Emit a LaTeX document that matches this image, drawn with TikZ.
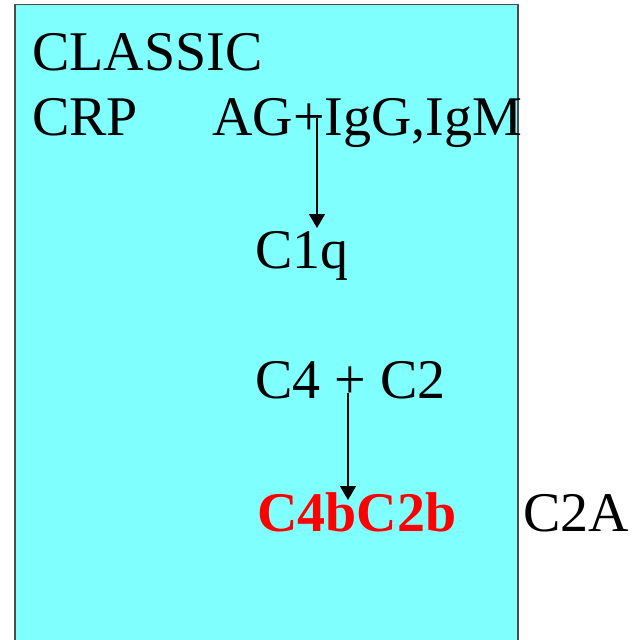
\documentclass[tikz,border=0pt]{standalone}
\usepackage{fontspec}
\setmainfont{Liberation Serif}
\usetikzlibrary{arrows.meta}
\tikzset{
  lbl/.style={anchor=base west, inner sep=0pt, font=\fontsize{56}{60}\selectfont},
  redlbl/.style={lbl, text=red, font=\fontsize{56}{60}\selectfont\bfseries},
  flow/.style={line width=1.4pt, -{Triangle[length=14pt,width=16pt]}},
  panel/.style={draw=black!70, line width=1.5pt, fill=cyanbg}
}
\definecolor{cyanbg}{HTML}{80FFFF}
\begin{document}
\begin{tikzpicture}[x=1pt,y=-1pt]
\useasboundingbox (0,0) rectangle (634,640);
\clip (0,0) rectangle (634,640);
\path[panel] (15,4.5) rectangle (518,660);
\node[lbl] (classic) at (32,70) {CLASSIC};
\node[lbl] (crp) at (32,135) {CRP};
\node[lbl] (ag) at (212,135) {AG+IgG,IgM};
\node[lbl] (c1q) at (255,268) {C1q};
\node[lbl] (c4c2) at (255,398) {C4 + C2};
\node[redlbl] (c4bc2b) at (257,531) {C4bC2b};
\node[lbl] (c2a) at (523,531) {C2A};
\coordinate (a1s) at (317,118);
\coordinate (a1e) at (317,228);
\coordinate (a2s) at (348,393);
\coordinate (a2e) at (348,500);
\draw[flow] (a1s) -- (a1e);
\draw[flow] (a2s) -- (a2e);
\end{tikzpicture}
\end{document}
